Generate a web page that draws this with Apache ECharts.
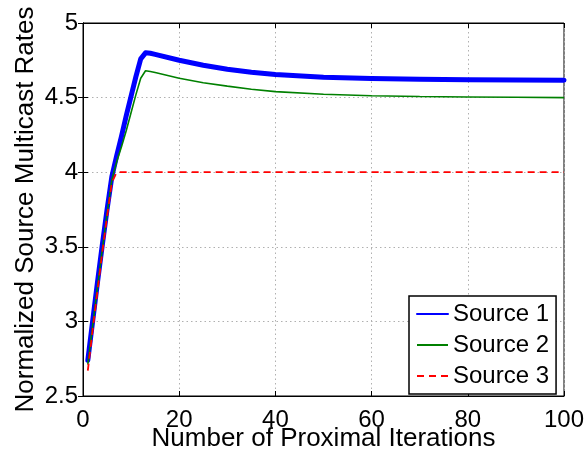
<!DOCTYPE html>
<html>
<head>
<meta charset="utf-8">
<script src="https://cdn.jsdelivr.net/npm/echarts@6/dist/echarts.min.js"></script>
<style>
html,body{margin:0;padding:0;background:#fff;}
#chart{width:588px;height:451px;}
</style>
</head>
<body>
<div id="chart"></div>
<script>
var iterations = [1,2,3,4,5,6,7,8,9,10,11,12,13,14,15,20,25,30,35,40,50,60,70,80,90,100];
var source1 = [2.74,3.00,3.26,3.51,3.75,3.97,4.11,4.24,4.38,4.51,4.64,4.76,4.80,4.797,4.79,4.75,4.717,4.69,4.67,4.655,4.637,4.628,4.623,4.62,4.618,4.617];
var source2 = [2.71,2.97,3.23,3.48,3.72,3.95,4.07,4.17,4.28,4.40,4.52,4.63,4.68,4.675,4.668,4.63,4.60,4.577,4.556,4.54,4.522,4.512,4.507,4.504,4.502,4.50];
var source3 = [2.67,2.94,3.20,3.46,3.70,3.93,4.00,4.00,4.00,4.00,4.00,4.00,4.00,4.00,4.00,4.00,4.00,4.00,4.00,4.00,4.00,4.00,4.00,4.00,4.00,4.00];
var seriesNames = ['Source 1','Source 2','Source 3'];
var xTicks = {min:0, max:100, interval:20};
var yTicks = {min:2.5, max:5, interval:0.5};

function pairs(xs, ys){ return xs.map(function(x,i){ return [x, ys[i]]; }); }

var font = 'Liberation Sans, Arial, Helvetica, sans-serif';
var chart = echarts.init(document.getElementById('chart'), null, {renderer:'canvas'});
var gridLine = {show:true, lineStyle:{color:'#b0b0b0', type:[1.5,3], width:1}};
chart.setOption({
  animation:false,
  backgroundColor:'#fff',
  grid:{left:83, right:24, top:23, bottom:55, show:true, borderColor:'#000', borderWidth:1,
        containLabel:false, outerBoundsMode:'none'},
  legend:{
    orient:'vertical', left:409, top:296,
    data:seriesNames,
    backgroundColor:'#fff', borderColor:'#000', borderWidth:1.5, borderRadius:0,
    padding:[6,7,6,7], itemGap:7, itemWidth:31, itemHeight:24,
    itemStyle:{opacity:0},
    textStyle:{fontFamily:font, fontSize:24, color:'#000', lineHeight:24}
  },
  xAxis:[{
    type:'value', min:xTicks.min, max:xTicks.max, interval:xTicks.interval,
    name:'Number of Proximal Iterations', nameLocation:'middle', nameGap:30, nameMoveOverlap:false,
    nameTextStyle:{fontFamily:font, fontSize:26, color:'#000'},
    axisLine:{show:true, lineStyle:{color:'#000', width:1}},
    axisTick:{show:true, inside:true, length:5, lineStyle:{color:'#000'}},
    axisLabel:{fontFamily:font, fontSize:24, color:'#000', margin:12},
    splitLine:gridLine
  },{
    type:'value', position:'top', min:xTicks.min, max:xTicks.max, interval:xTicks.interval,
    axisLine:{show:true, lineStyle:{color:'#000', width:1}},
    axisTick:{show:true, inside:true, length:5, lineStyle:{color:'#000'}},
    axisLabel:{show:false}, splitLine:{show:false}
  }],
  yAxis:[{
    type:'value', min:yTicks.min, max:yTicks.max, interval:yTicks.interval,
    name:'Normalized Source Multicast Rates', nameLocation:'middle', nameGap:44, nameMoveOverlap:false,
    nameTextStyle:{fontFamily:font, fontSize:26, color:'#000'},
    axisLine:{show:true, lineStyle:{color:'#000', width:1}},
    axisTick:{show:true, inside:true, length:5, lineStyle:{color:'#000'}},
    axisLabel:{fontFamily:font, fontSize:24, color:'#000', margin:5},
    splitLine:gridLine
  },{
    type:'value', position:'right', min:yTicks.min, max:yTicks.max, interval:yTicks.interval,
    axisLine:{show:true, lineStyle:{color:'#000', width:1}},
    axisTick:{show:true, inside:true, length:5, lineStyle:{color:'#000'}},
    axisLabel:{show:false}, splitLine:{show:false}
  }],
  series:[
    {name:seriesNames[0], type:'line', data:pairs(iterations, source1), showSymbol:false, symbol:'none',
     color:'#0000ff', lineStyle:{color:'#0000ff', width:5, join:'round', cap:'round'}},
    {name:seriesNames[1], type:'line', data:pairs(iterations, source2), showSymbol:false, symbol:'none',
     color:'#008000', lineStyle:{color:'#008000', width:1.6}},
    {name:seriesNames[2], type:'line', data:pairs(iterations, source3), showSymbol:false, symbol:'none',
     color:'#ff0000', lineStyle:{color:'#ff0000', width:1.8, type:[7,5]}}
  ]
});
</script>
</body>
</html>
